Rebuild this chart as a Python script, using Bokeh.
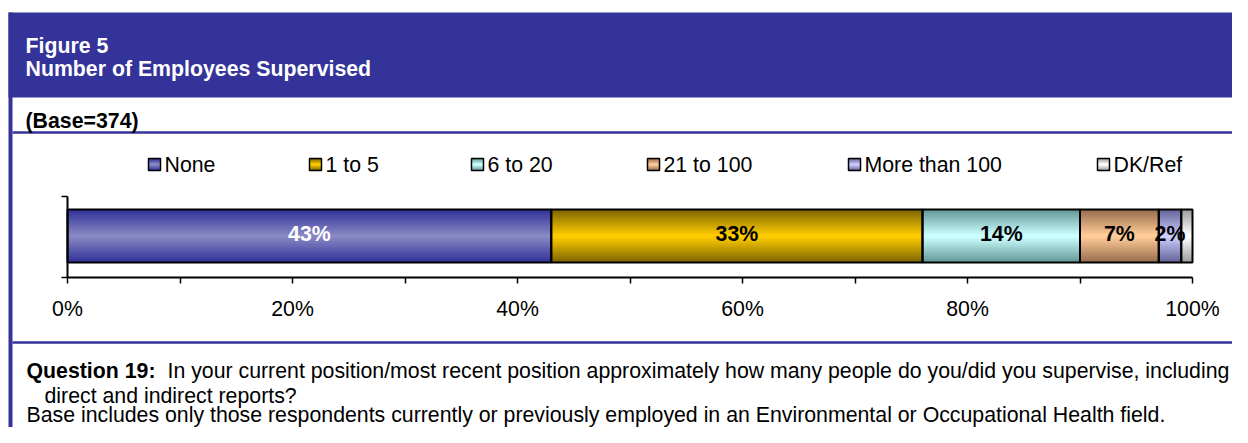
from bokeh.plotting import figure
from bokeh.models import Range1d, LinearAxis, FixedTicker, ColumnDataSource, Grid
from bokeh.core.properties import value
from bokeh.embed import file_html
from bokeh.resources import INLINE

# ---------------- data ----------------
categories = ["None", "1 to 5", "6 to 20", "21 to 100", "More than 100", "DK/Ref"]
percentages = [43, 33, 14, 7, 2, 1]
bar_labels = ["43%", "33%", "14%", "7%", "2%", ""]
label_colors = ["white", "black", "black", "black", "black", "black"]
edge_colors = ["#333399", "#7f6600", "#669999", "#9a6e4e", "#666699", "#a0a0a0"]
center_colors = ["#8888c4", "#ffcc00", "#ccffff", "#ffcc99", "#ccccff", "#ffffff"]

tick_values = [0, 20, 40, 60, 80, 100]
tick_labels = ["0%", "20%", "40%", "60%", "80%", "100%"]
minor_tick_values = [10, 30, 50, 70, 90]

title_line1 = "Figure 5"
title_line2 = "Number of Employees Supervised"
base_note = "(Base=374)"
question_label = "Question 19:"
question_text = ("In your current position/most recent position approximately how many "
                 "people do you/did you supervise, including")
question_text2 = "direct and indirect reports?"
footnote = ("Base includes only those respondents currently or previously employed "
            "in an Environmental or Occupational Health field.")

# ---------------- layout helpers ----------------
W, H = 1232, 427
AX0 = 67.0          # pixel of 0 %
PX_PER_PCT = 11.25  # pixels per percent
BLUE = "#333399"
FONT = value("Liberation Sans")
FS = "21.3px"
TEXT_SHIFT = 7      # compensation for text baseline placement


def X(rx):
    return (rx - AX0) / PX_PER_PCT


def Y(ry):
    return -ry


def TY(ry):
    return -(ry - TEXT_SHIFT)


def mix(c1, c2, t):
    a = [int(c1[i:i + 2], 16) for i in (1, 3, 5)]
    b = [int(c2[i:i + 2], 16) for i in (1, 3, 5)]
    return "#%02x%02x%02x" % tuple(round(a[k] + (b[k] - a[k]) * t) for k in range(3))


p = figure(width=W, height=H, output_backend="svg", toolbar_location=None,
           x_range=Range1d(X(0), X(W)), y_range=Range1d(Y(H), Y(0)),
           x_axis_location=None, y_axis_location=None, min_border=0,
           outline_line_color=None, background_fill_color="white",
           border_fill_color="white")
for g in p.select(type=Grid):
    g.visible = False

# ---------------- frame decorations ----------------
p.quad(left=[X(8)], right=[X(W + 5)], top=[Y(12)], bottom=[Y(97)],
       fill_color=BLUE, line_color=None)
p.quad(left=[X(8)], right=[X(12)], top=[Y(12)], bottom=[Y(H + 10)],
       fill_color=BLUE, line_color=None)
p.segment(x0=[X(12), X(12)], x1=[X(W + 5)] * 2, y0=[Y(132), Y(342)], y1=[Y(132), Y(342)],
          line_color=BLUE, line_width=2.5)

p.text(x=[X(25), X(25)], y=[TY(52), TY(75)], text=[title_line1, title_line2],
       text_font=FONT, text_font_size=FS, text_font_style="bold",
       text_color="white", text_baseline="alphabetic", text_align="left")
p.text(x=[X(25)], y=[TY(127)], text=[base_note], text_font=FONT, text_font_size=FS,
       text_font_style="bold", text_color="black", text_baseline="alphabetic")

# ---------------- stacked bar ----------------
starts, ends = [], []
acc = 0
for v in percentages:
    starts.append(acc)
    acc += v
    ends.append(acc)
mids = [(s + e) / 2 for s, e in zip(starts, ends)]

BAR_CY = 235.5
BAR_H = 53
N = 16
for i in range(N):
    t = i / (N - 1)
    src = ColumnDataSource(dict(left=starts, right=ends,
                                color=[mix(e, c, t) for e, c in zip(edge_colors, center_colors)]))
    p.hbar(y=Y(BAR_CY), left="left", right="right", height=BAR_H * (1 - i / N),
           fill_color="color", line_color=None, source=src)
p.hbar(y=Y(BAR_CY), left=starts, right=ends, height=BAR_H, fill_color=None,
       line_color="black", line_width=2)

p.text(x=mids, y=TY(240), text=bar_labels, text_color=label_colors, text_font=FONT,
       text_font_size=FS, text_font_style="bold", text_align="center",
       text_baseline="alphabetic")

# ---------------- legend ----------------
leg_left = [148, 309, 471, 647, 848, 1097]
LEG_CY = 164
SQ = 12
M = 8
for i in range(M):
    t = i / (M - 1)
    p.rect(x=[X(l + SQ / 2) for l in leg_left], y=Y(LEG_CY), width=SQ, height=SQ * (1 - i / M),
           width_units="screen", height_units="screen",
           fill_color=[mix(e, c, t) for e, c in zip(edge_colors, center_colors)], line_color=None)
p.rect(x=[X(l + SQ / 2) for l in leg_left], y=Y(LEG_CY), width=SQ, height=SQ,
       width_units="screen", height_units="screen", fill_color=None,
       line_color="black", line_width=1.5)
p.text(x=[X(l + SQ + 4) for l in leg_left], y=TY(171), text=categories, text_font=FONT,
       text_font_size=FS, text_color="black", text_baseline="alphabetic")

# ---------------- axes ----------------
xaxis = LinearAxis(fixed_location=Y(277),
                   ticker=FixedTicker(ticks=tick_values, minor_ticks=minor_tick_values),
                   major_label_overrides={v: l for v, l in zip(tick_values, tick_labels)},
                   bounds=(0, 100))
xaxis.axis_line_color = "black"
xaxis.axis_line_width = 2
xaxis.major_tick_out = 6
xaxis.major_tick_in = 0
xaxis.minor_tick_out = 6
xaxis.minor_tick_in = 0
xaxis.major_tick_line_width = 1.5
xaxis.minor_tick_line_width = 1.5
xaxis.major_tick_line_color = "black"
xaxis.minor_tick_line_color = "black"
xaxis.major_label_text_font = "Liberation Sans"
xaxis.major_label_text_font_size = FS
xaxis.major_label_text_color = "black"
xaxis.major_label_standoff = 13
p.add_layout(xaxis, "below")

yaxis = LinearAxis(fixed_location=0,
                   ticker=FixedTicker(ticks=[Y(196), Y(277)], minor_ticks=[]),
                   major_label_overrides={Y(196): "", Y(277): ""},
                   bounds=(Y(277), Y(196)))
yaxis.axis_line_color = "black"
yaxis.axis_line_width = 2
yaxis.major_tick_out = 6
yaxis.major_tick_in = 0
yaxis.minor_tick_out = 0
yaxis.minor_tick_in = 0
yaxis.major_tick_line_width = 1.5
yaxis.major_label_text_font_size = "1px"
p.add_layout(yaxis, "left")

# ---------------- notes ----------------
p.text(x=[X(26)], y=TY(377), text=[question_label], text_font=FONT, text_font_size=FS,
       text_font_style="bold", text_color="black", text_baseline="alphabetic")
p.text(x=[X(167)], y=TY(377), text=[question_text], text_font=FONT, text_font_size=FS,
       text_color="black", text_baseline="alphabetic")
p.text(x=[X(44)], y=TY(402), text=[question_text2], text_font=FONT, text_font_size=FS,
       text_color="black", text_baseline="alphabetic")
# the reference shows this line at the very bottom edge; keep it fully visible
p.text(x=[X(26)], y=TY(421), text=[footnote], text_font=FONT, text_font_size=FS,
       text_color="black", text_baseline="alphabetic")

open("out.html", "w").write(file_html(p, INLINE))
